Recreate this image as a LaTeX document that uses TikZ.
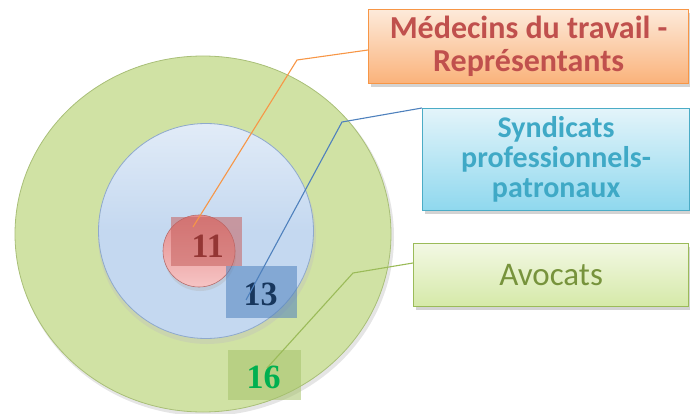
\documentclass[tikz,border=0pt]{standalone}
\usepackage{fontspec}
\setmainfont{Carlito}
\newfontfamily\numfont{Liberation Serif}
\usetikzlibrary{shadows,calc,shapes.geometric}
\definecolor{ringgreen}{HTML}{D0E2A4}
\definecolor{ringgreenD}{HTML}{A9BF78}
\definecolor{ringblue}{HTML}{C4D8F0}
\definecolor{ringblueD}{HTML}{8FA9CC}
\definecolor{ringred}{HTML}{E38A8A}
\definecolor{ringredL}{HTML}{F6C4C4}
\definecolor{orgL}{HTML}{FDEADA}
\definecolor{orgD}{HTML}{FAB27A}
\definecolor{orgB}{HTML}{F79646}
\definecolor{bluL}{HTML}{E3F4FA}
\definecolor{bluD}{HTML}{8FD8EE}
\definecolor{bluB}{HTML}{4BACC6}
\definecolor{grnL}{HTML}{F3F8E4}
\definecolor{grnD}{HTML}{D5E9A8}
\definecolor{grnB}{HTML}{9BBB59}
\definecolor{medtxt}{HTML}{C0504D}
\definecolor{syntxt}{HTML}{3FA9C6}
\definecolor{avotxt}{HTML}{77933C}
\definecolor{n11}{HTML}{943634}
\definecolor{n13}{HTML}{17365D}
\definecolor{n16}{HTML}{00B050}
\definecolor{bx13}{HTML}{4F81BD}
\tikzset{
  labelbox/.style={draw, line width=1.2pt, inner sep=0pt, anchor=north west,
    drop shadow={shadow xshift=2pt, shadow yshift=-3pt, opacity=0.35}},
  numbox/.style={inner sep=0pt, anchor=north west, fill opacity=0.55, text opacity=1,
    font=\numfont\bfseries\fontsize{34}{34}\selectfont},
  leader/.style={line width=1.1pt},
}
\begin{document}
\begin{tikzpicture}[x=1pt,y=-1pt]
\useasboundingbox (0,0) rectangle (690,414);
% rings
\fill[black!20, opacity=0.5] (205,237) ellipse [x radius=189, y radius=179];
\node[ellipse, minimum width=376pt, minimum height=356pt, inner sep=0pt,
  draw=ringgreenD, line width=0.8pt, fill=ringgreen] (outer) at (203,234) {};
\fill[black!25, opacity=0.35] (207,236) ellipse [x radius=109, y radius=108];
\node[circle, minimum width=215pt, minimum height=213pt, inner sep=0pt,
  draw=ringblueD, line width=0.8pt, top color=ringblue!50!white, bottom color=ringblue, middle color=ringblue] (middle) at (206,231) {};
\fill[black!30, opacity=0.35] (200,255) circle [radius=36];
\node[circle, minimum size=72pt, inner sep=0pt, draw=ringred!80!black, line width=0.6pt,
  top color=ringred, bottom color=ringredL] (inner) at (199,251) {};
% number boxes
\node[numbox, fill=medtxt!90, minimum width=71pt, text height=40pt, text depth=9pt, text=n11] (b11) at (171,217) {\hspace*{2pt}11};
\node[numbox, fill=bx13, minimum width=71pt, text height=39pt, text depth=13pt, text=n13] (b13) at (226,266) {\hspace*{-2pt}13};
\node[numbox, fill=grnB!90, minimum width=73pt, text height=38pt, text depth=12pt, text=n16] (b16) at (228,350) {\hspace*{-2pt}16};
% label boxes
\node[labelbox, draw=orgB, top color=orgL, bottom color=orgD, minimum width=320pt, minimum height=74pt, align=center,
  font=\bfseries\fontsize{32}{33}\selectfont, text=medtxt] (med) at (368,9)
  {Médecins du travail -\\Représentants};
\node[labelbox, draw=bluB, top color=bluL, bottom color=bluD, minimum width=267pt, minimum height=102pt, align=center,
  font=\bfseries\fontsize{30}{30}\selectfont, text=syntxt] (syn) at (422,108)
  {Syndicats\\professionnels-\\patronaux};
\node[labelbox, draw=grnB, top color=grnL, bottom color=grnD, minimum width=275pt, minimum height=63pt,
  font=\fontsize{33}{33}\selectfont, text=avotxt] (avo) at (413,243) {Avocats};
% leaders
\coordinate (o1) at (193,227);
\coordinate (o2) at (297,60);
\coordinate (s1) at (246,300);
\coordinate (s2) at (342,122);
\coordinate (g1) at (267,368);
\coordinate (g2) at (353,273);
\draw[leader, orgB] (o1) -- (o2) -- (med.west |- 0,50);
\draw[leader, bx13] (s1) -- (s2) -- (syn.north west);
\draw[leader, grnB] (g1) -- (g2) -- (avo.west |- 0,263);
\end{tikzpicture}
\end{document}
